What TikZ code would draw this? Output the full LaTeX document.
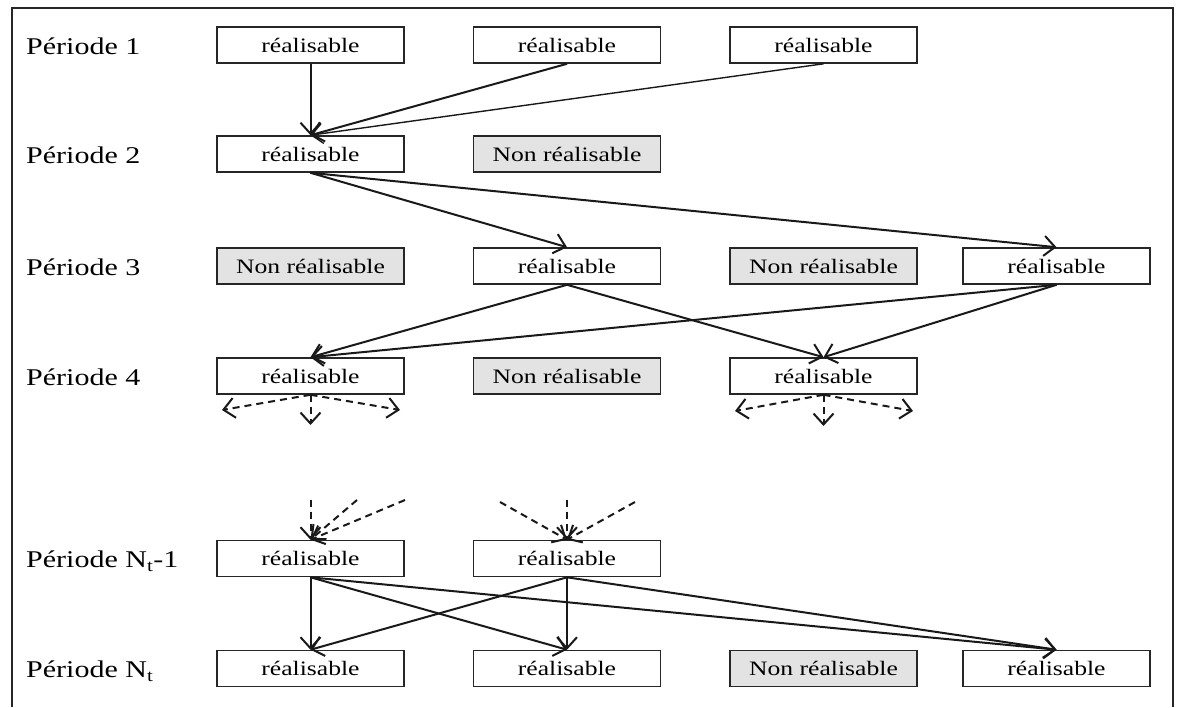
\documentclass[tikz,border=0pt]{standalone}
\usepackage{fontspec}
\setmainfont{Liberation Serif}
\usepackage{graphicx}
\usetikzlibrary{arrows.meta}
\newcommand{\stretchtxt}[1]{\scalebox{1.25}[1]{#1}}
\begin{document}
\begin{tikzpicture}[x=1pt,y=-1pt,
 box/.style={draw=black!85,line width=1.6pt,minimum width=187pt,minimum height=36pt,inner sep=0pt,font=\fontsize{20.5}{24}\selectfont},
 nonbox/.style={box,fill=black!11},
 lbl/.style={anchor=base west,inner sep=0pt,font=\fontsize{24}{28}\selectfont},
 arr/.style={line width=2pt,black!90,-{Straight Barb[length=11pt,width=20pt]}},
 thinarr/.style={arr,line width=1.4pt},
 darr/.style={arr,dash pattern=on 7pt off 5pt}]
\useasboundingbox (0,0) rectangle (1177,707);
\draw[line width=2pt,black!85] (12,707) -- (12,8) -- (1173,8) -- (1173,707);

% labels
\node[lbl] (l1) at (26,54.5) {\stretchtxt{Période 1}};
\node[lbl] (l2) at (26,163.5) {\stretchtxt{Période 2}};
\node[lbl] (l3) at (26,275.5) {\stretchtxt{Période 3}};
\node[lbl] (l4) at (26,385.5) {\stretchtxt{Période 4}};
\node[lbl] (l5) at (26,567.5) {\stretchtxt{Période N\textsubscript{t}-1}};
\node[lbl] (l6) at (26,677.5) {\stretchtxt{Période N\textsubscript{t}}};

% row 1
\node[box] (a1) at (310.5,45) {\stretchtxt{réalisable}};
\node[box] (a2) at (567,45) {\stretchtxt{réalisable}};
\node[box] (a3) at (823.5,45) {\stretchtxt{réalisable}};
% row 2
\node[box] (b1) at (310.5,154) {\stretchtxt{réalisable}};
\node[nonbox] (b2) at (567,154) {\stretchtxt{Non réalisable}};
% row 3
\node[nonbox] (c1) at (310.5,266) {\stretchtxt{Non réalisable}};
\node[box] (c2) at (567,266) {\stretchtxt{réalisable}};
\node[nonbox] (c3) at (823.5,266) {\stretchtxt{Non réalisable}};
\node[box] (c4) at (1056.5,266) {\stretchtxt{réalisable}};
% row 4
\node[box] (d1) at (310.5,376) {\stretchtxt{réalisable}};
\node[nonbox] (d2) at (567,376) {\stretchtxt{Non réalisable}};
\node[box] (d3) at (823.5,376) {\stretchtxt{réalisable}};
% row Nt-1
\node[box] (e1) at (310.5,558.5) {\stretchtxt{réalisable}};
\node[box] (e2) at (567,558.5) {\stretchtxt{réalisable}};
% row Nt
\node[box] (f1) at (310.5,668.5) {\stretchtxt{réalisable}};
\node[box] (f2) at (567,668.5) {\stretchtxt{réalisable}};
\node[nonbox] (f3) at (823.5,668.5) {\stretchtxt{Non réalisable}};
\node[box] (f4) at (1056.5,668.5) {\stretchtxt{réalisable}};

% arrows period 1 -> 2
\draw[arr] (a1.south) -- (b1.north);
\draw[arr] (a2.south) -- (b1.north);
\draw[thinarr] (a3.south) -- (b1.north);
% 2 -> 3
\draw[arr] (b1.south) -- (c2.north);
\draw[arr] (b1.south) -- (c4.north);
% 3 -> 4
\draw[arr] (c2.south) -- (d1.north);
\draw[arr] (c2.south) -- (d3.north);
\draw[arr] (c4.south) -- (d1.north);
\draw[arr] (c4.south) -- (d3.north);
% dashed out of period 4
\coordinate (o1) at (222,410);
\coordinate (o2) at (310.5,425);
\coordinate (o3) at (400,410);
\coordinate (o4) at (735,411);
\coordinate (o5) at (823.5,426);
\coordinate (o6) at (913,411);
\draw[darr] (d1.south) -- (o1);
\draw[darr] (d1.south) -- (o2);
\draw[darr] (d1.south) -- (o3);
\draw[darr] (d3.south) -- (o4);
\draw[darr] (d3.south) -- (o5);
\draw[darr] (d3.south) -- (o6);
% dashed into period Nt-1
\coordinate (i1) at (310.5,500);
\coordinate (i2) at (357,500);
\coordinate (i3) at (405,500);
\coordinate (i4) at (500,502);
\coordinate (i5) at (567,500);
\coordinate (i6) at (635,502);
\draw[darr] (i1) -- (e1.north);
\draw[darr] (i2) -- (e1.north);
\draw[darr] (i3) -- (e1.north);
\draw[darr] (i4) -- (e2.north);
\draw[darr] (i5) -- (e2.north);
\draw[darr] (i6) -- (e2.north);
% Nt-1 -> Nt
\draw[arr] (e1.south) -- (f1.north);
\draw[arr] (e1.south) -- (f2.north);
\draw[arr] (e1.south) -- (f4.north);
\draw[arr] (e2.south) -- (f1.north);
\draw[arr] (e2.south) -- (f2.north);
\draw[arr] (e2.south) -- (f4.north);
\end{tikzpicture}
\end{document}
